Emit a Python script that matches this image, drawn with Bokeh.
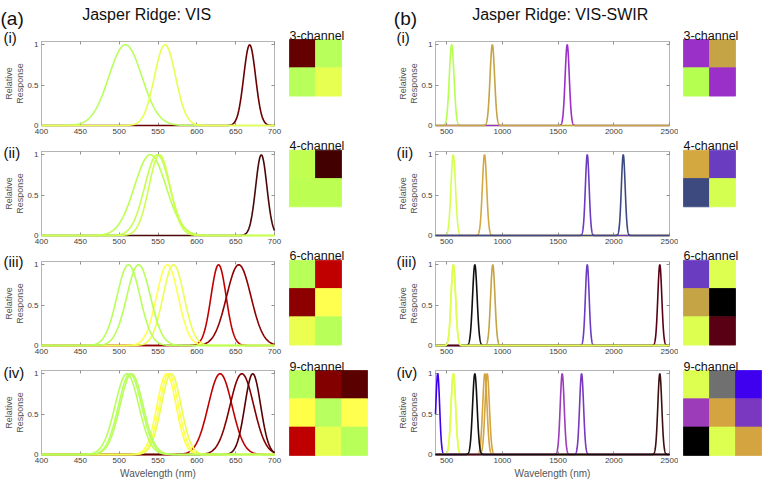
import numpy as np
from bokeh.plotting import figure
from bokeh.layouts import row, column
from bokeh.models import Label, LinearAxis, FixedTicker, Range1d
from bokeh.embed import file_html
from bokeh.resources import INLINE
from bokeh.core.validation import silence
from bokeh.core.validation.warnings import MISSING_RENDERERS

silence(MISSING_RENDERERS, True)

FONT = "Liberation Sans"

# ---------------- data ----------------
VIS_RANGE = (400, 700)
SWIR_RANGE = (400, 2500)
VIS_XTICKS = [400, 450, 500, 550, 600, 650, 700]
SWIR_XTICKS = [500, 1000, 1500, 2000, 2500]
Y_TICKS = [0, 0.5, 1]
PANEL_TAGS = ["(i)", "(ii)", "(iii)", "(iv)"]
CHANNEL_LABELS = ["3-channel", "4-channel", "6-channel", "9-channel"]
MOSAIC_COLS = [2, 2, 2, 3]

# VIS (a): peak wavelength (nm), FWHM (nm), colour per filter; mosaic cell colours
vis1_peak = [668, 508, 559]
vis1_fwhm = [18, 50, 32]
vis1_color = ["#6a0000", "#b8ff5c", "#e6ff50"]
vis1_cells = ["#640000", "#b8ff5c", "#b8ff5c", "#e6ff50"]

vis2_peak = [683, 540, 549, 552]
vis2_fwhm = [17, 48, 38, 32]
vis2_color = ["#4a0808", "#bcff52", "#c4ff52", "#ccff50"]
vis2_cells = ["#c0ff50", "#420000", "#bcff52", "#bcff52"]

vis3_peak = [628, 654, 562, 570, 512, 525]
vis3_fwhm = [23, 37, 33, 32, 35, 36]
vis3_color = ["#c00000", "#8c0000", "#ffff50", "#eaff50", "#b8ff5a", "#b8ff5a"]
vis3_cells = ["#b8ff5a", "#c00000", "#8c0000", "#ffff50", "#eaff50", "#b8ff5a"]

vis4_peak = [630, 658, 672, 561, 564, 567, 510, 514, 516]
vis4_fwhm = [36, 36, 24, 29, 29, 30, 36, 35, 35]
vis4_color = ["#c00000", "#820000", "#5a0000", "#ffff48", "#ffff50", "#e8ff50",
              "#b8ff5a", "#b8ff60", "#b8ff5a"]
vis4_cells = ["#b8ff5a", "#820000", "#5a0000", "#ffff48", "#b8ff60", "#ffff50",
              "#c00000", "#e8ff50", "#b8ff5a"]

# VIS-SWIR (b)
swir1_peak = [545, 1582, 910]
swir1_fwhm = [50, 44, 48]
swir1_color = ["#b4ff50", "#9b30c8", "#c4a444"]
swir1_cells = ["#9b30c8", "#c4a444", "#b4ff50", "#9b30c8"]

swir2_peak = [559, 840, 1762, 2085]
swir2_fwhm = [48, 46, 40, 40]
swir2_color = ["#d4ff50", "#d4a840", "#6a3cc0", "#3c4a80"]
swir2_cells = ["#d4a840", "#6a3cc0", "#3c4a80", "#d4ff50"]

swir3_peak = [753, 914, 1762, 2413, 560, 560]
swir3_fwhm = [48, 46, 40, 42, 48, 48]
swir3_color = ["#101010", "#c4a444", "#6a3cc0", "#5a0014", "#dcff50", "#dcff50"]
swir3_cells = ["#6a3cc0", "#dcff50", "#c4a444", "#000000", "#dcff50", "#5a0014"]

swir4_peak = [420, 560, 560, 843, 864, 1537, 1711, 2413, 753]
swir4_fwhm = [40, 48, 48, 46, 46, 42, 42, 42, 48]
swir4_color = ["#4000f0", "#dcff50", "#dcff50", "#d4a440", "#d4a440", "#9c3cb8",
               "#7a38c0", "#3c1010", "#101010"]
swir4_cells = ["#dcff50", "#707070", "#4000f0", "#9c3cb8", "#d4a440", "#7a38c0",
               "#000000", "#dcff50", "#d4a440"]

VIS = [(vis1_peak, vis1_fwhm, vis1_color, vis1_cells),
       (vis2_peak, vis2_fwhm, vis2_color, vis2_cells),
       (vis3_peak, vis3_fwhm, vis3_color, vis3_cells),
       (vis4_peak, vis4_fwhm, vis4_color, vis4_cells)]
SWIR = [(swir1_peak, swir1_fwhm, swir1_color, swir1_cells),
        (swir2_peak, swir2_fwhm, swir2_color, swir2_cells),
        (swir3_peak, swir3_fwhm, swir3_color, swir3_cells),
        (swir4_peak, swir4_fwhm, swir4_color, swir4_cells)]

# ---------------- layout (pixels) ----------------
HEADER_H = 23
FH = 84
CURVE_T = [18, 9, 10, 9]
CURVE_B = [17, 16, 16, 28]
ROW_H = [t + FH + b for t, b in zip(CURVE_T, CURVE_B)]
TAG_Y = [13.5, 9.7, 9.7, 10.7]
CELL_W = 26
CELL_H = 28.3
MOS_H = [130, 110, 110, 132]
MOS_OFF = [39, 19.7, 19.7, 20]
YTOP = 1.04

# column widths: gutterA, curveA (left border, frame, right border), mosaicB, ...
GA_W, CA_L, CA_F, CA_R = 24, 17, 233, 9
MB_W, MB_X0 = 97, 6
GC_W, CC_L, CC_F, CC_R = 38, 17, 234, 9
MD_W, MD_X0 = 84, 5

AX_COL = "#b4b4b4"
TICK_COL = "#909090"
LBL_COL = "#404040"


def lab(p, text, x, y, size, **kw):
    p.add_layout(Label(x=x, y=y, text=text, text_font=FONT, text_font_size=size, **kw))


def bare(w, h, xr, yr, left=0, right=0):
    p = figure(width=w, height=h, x_range=xr, y_range=yr, title=None,
               x_axis_type=None, y_axis_type=None, min_border=0, min_border_left=left,
               min_border_right=right, min_border_top=0, min_border_bottom=0,
               output_backend="svg", toolbar_location=None, tools="")
    p.grid.visible = False
    p.outline_line_color = None
    return p


def gutter_fig(w, k, tag_x, rr_x, head=None, head_x=0):
    h = ROW_H[k] + (HEADER_H if k == 0 else 0)
    y0 = HEADER_H if k == 0 else 0
    p = bare(w, h, Range1d(0, w), Range1d(h, 0))
    lab(p, PANEL_TAGS[k], tag_x, y0 + TAG_Y[k], "15px", text_baseline="middle",
        text_align="left", text_color="#111111")
    lab(p, "Relative\nResponse", rr_x, y0 + CURVE_T[k] + FH / 2, "9px", angle=np.pi / 2,
        text_align="center", text_baseline="middle", text_color="#555555",
        text_line_height=1.05)
    if head:
        lab(p, head, head_x, 17.5, "19px", text_align="left", text_baseline="alphabetic",
            text_color="#111111")
    return p


def header_fig(fw, left, right, title, tx):
    p = bare(left + fw + right, HEADER_H, Range1d(0, fw), Range1d(HEADER_H, 0), left, right)
    lab(p, title, tx, 14, "16px", text_align="left", text_baseline="alphabetic",
        text_color="#111111")
    return p


def curve_fig(xr, xticks, peaks, fwhms, colors, k, left, fw, right):
    p = figure(width=left + fw + right, height=CURVE_T[k] + FH + CURVE_B[k],
               x_range=Range1d(*xr), title=None,
               y_range=Range1d(0, YTOP), min_border_left=left, min_border_right=right,
               min_border_top=CURVE_T[k], min_border_bottom=CURVE_B[k],
               output_backend="svg", toolbar_location=None, tools="")
    wl = np.arange(xr[0], xr[1] + 1, 1.0)
    for c, f, col in zip(peaks, fwhms, colors):
        resp = np.exp(-4 * np.log(2) * ((wl - c) / f) ** 2)
        p.line(wl, resp, line_color=col, line_width=1.6, level="overlay")
    p.grid.visible = False
    p.outline_line_color = AX_COL
    xa = p.xaxis[0]
    ya = p.yaxis[0]
    xa.ticker = FixedTicker(ticks=xticks)
    ya.ticker = FixedTicker(ticks=Y_TICKS)
    ya.major_label_overrides = {0: "0", 0.5: "0.5", 1: "1"}
    for ax in (xa, ya):
        ax.major_tick_in = 3
        ax.major_tick_out = 0
        ax.minor_tick_in = 0
        ax.minor_tick_out = 0
        ax.axis_line_color = AX_COL
        ax.major_tick_line_color = TICK_COL
        ax.major_label_text_font = FONT
        ax.major_label_text_font_size = "8px"
        ax.major_label_text_color = LBL_COL
        ax.major_label_standoff = 3
    if k == 3:
        xa.axis_label = "Wavelength (nm)"
        xa.axis_label_text_font = FONT
        xa.axis_label_text_font_size = "10px"
        xa.axis_label_text_font_style = "normal"
        xa.axis_label_text_color = "#555555"
        xa.axis_label_standoff = 2
    for loc, tks in (("above", xticks), ("right", Y_TICKS)):
        m = LinearAxis(ticker=FixedTicker(ticks=tks), axis_line_color=None,
                       major_tick_in=3, major_tick_out=0, minor_tick_in=0, minor_tick_out=0,
                       major_tick_line_color=TICK_COL, major_label_text_font_size="0px",
                       major_label_text_color=None, major_label_standoff=0)
        p.add_layout(m, loc)
    return p


def mosaic_fig(cells, ncols, k, label, w, x0):
    h = MOS_H[k]
    off = MOS_OFF[k]
    p = bare(w, h, Range1d(-x0 / CELL_W, (w - x0) / CELL_W),
             Range1d((h - off) / CELL_H, -off / CELL_H))
    xs = [i % ncols + 0.5 for i in range(len(cells))]
    ys = [i // ncols + 0.5 for i in range(len(cells))]
    p.rect(x=xs, y=ys, width=1, height=1, fill_color=cells, line_color=cells, line_width=0.8)
    lab(p, label, 0, 0, "12.5px", y_offset=4, text_align="left", text_baseline="alphabetic",
        text_color="#111111")
    return p


col_ga, col_ca, col_mb, col_gc, col_cc, col_md = [], [], [], [], [], []
col_ca.append(header_fig(CA_F, CA_L, CA_R, "Jasper Ridge: VIS", 40.7))
col_cc.append(header_fig(CC_F, CC_L, CC_R, "Jasper Ridge: VIS-SWIR", 36.7))
for k in range(4):
    pk, fw_, cl, cells = VIS[k]
    col_ga.append(gutter_fig(GA_W, k, 3, 14, "(a)" if k == 0 else None, 0))
    col_ca.append(curve_fig(VIS_RANGE, VIS_XTICKS, pk, fw_, cl, k, CA_L, CA_F, CA_R))
    col_mb.append(mosaic_fig(cells, MOSAIC_COLS[k], k, CHANNEL_LABELS[k], MB_W, MB_X0))
    pk, fw_, cl, cells = SWIR[k]
    col_gc.append(gutter_fig(GC_W, k, 16, 28, "(b)" if k == 0 else None, 13.3))
    col_cc.append(curve_fig(SWIR_RANGE, SWIR_XTICKS, pk, fw_, cl, k, CC_L, CC_F, CC_R))
    col_md.append(mosaic_fig(cells, MOSAIC_COLS[k], k, CHANNEL_LABELS[k], MD_W, MD_X0))

layout = row(column(*col_ga), column(*col_ca), column(*col_mb),
             column(*col_gc), column(*col_cc), column(*col_md))

open("out.html", "w").write(file_html(layout, INLINE))
